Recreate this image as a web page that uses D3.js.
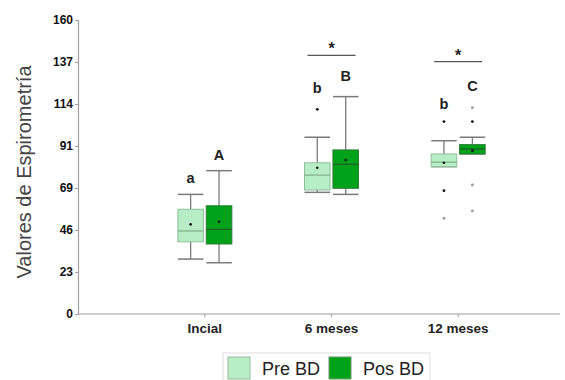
<!DOCTYPE html>
<html><head><meta charset="utf-8">
<script src="https://cdn.jsdelivr.net/npm/d3@7"></script>
<style>body{margin:0;background:#fff}svg{display:block}</style>
</head><body>
<script>
const categories = ["Incial", "6 meses", "12 meses"];
const seriesNames = ["Pre BD", "Pos BD"];
const seriesColors = ["#b8eec6", "#00a21a"];
const seriesStroke = ["#8fbf9a", "#2f7d36"];
// [whiskerLow, Q1, median, Q3, whiskerHigh, mean]
const preStats = [
  [29.9, 39.3, 45.2, 57.0, 65.1, 48.8],
  [66.2, 67.5, 75.6, 82.3, 96.2, 79.6],
  [80.2, 80.2, 82.6, 87.1, 94.3, 82.3]
];
const posStats = [
  [27.9, 38.1, 46.1, 58.9, 78.0, 50.2],
  [65.1, 68.4, 81.5, 89.3, 118.3, 83.8],
  [87.1, 87.1, 89.8, 92.2, 96.2, 88.9]
];
// outliers: [value, dark(1)/gray(0)]
const preOutliers = [[], [[111.4, 1]], [[104.7, 1], [67.1, 1], [52.1, 0]]];
const posOutliers = [[], [], [[112.3, 0], [104.7, 1], [70.2, 0], [56.1, 0]]];
const preLetters = ["a", "b", "b"];
const posLetters = ["A", "B", "C"];
const preLetterAt = [71.3, 120.3, 111.6];
const posLetterAt = [83.8, 126.8, 121.4];
const sigCategories = ["6 meses", "12 meses"];
const sigHeights = [140.8, 137.3];
const tickValues = [0, 23, 46, 69, 91, 114, 137, 160];
const yTitle = "Valores de Espirometría";

const W = 565, H = 380;
const FONT = "Liberation Sans, Arial, sans-serif";
const svg = d3.select("body").append("svg").attr("width", W).attr("height", H);

const y = d3.scaleLinear().domain([0, 160]).range([314, 20]);
const x = d3.scaleBand().domain(categories).range([141.5, 521.5]).paddingInner(0).paddingOuter(0);
const sub = d3.scaleBand().domain(seriesNames).range([-27, 27]).paddingInner(0.1).paddingOuter(0);

// y axis
const yAxis = d3.axisLeft(y).tickValues(tickValues.map((t, i) => i * 160 / 7)).tickSize(3).tickPadding(2)
  .tickFormat((d, i) => tickValues[i]);
const ga = svg.append("g").attr("transform", "translate(78,0)").call(yAxis);
ga.select(".domain").attr("stroke", "#a0a0a0").attr("stroke-width", 1.2);
ga.selectAll(".tick line").attr("stroke", "#a0a0a0");
ga.selectAll(".tick text").attr("font-family", FONT).attr("font-size", 12)
  .attr("font-weight", "bold").attr("fill", "#111");

// x axis
svg.append("line").attr("x1", 78).attr("x2", 560).attr("y1", 314).attr("y2", 314)
  .attr("stroke", "#a0a0a0").attr("stroke-width", 1.2);
const gx = svg.append("g").attr("transform", "translate(0,314)")
  .call(d3.axisBottom(x).tickSize(3).tickPadding(6));
gx.select(".domain").remove();
gx.selectAll(".tick line").attr("stroke", "#a0a0a0");
gx.selectAll(".tick text").attr("font-family", FONT).attr("font-size", 13.5)
  .attr("font-weight", "bold").attr("fill", "#222");

// y title
svg.append("text").attr("transform", "translate(31,172) rotate(-90)").attr("text-anchor", "middle")
  .attr("font-family", FONT).attr("font-size", 20).attr("fill", "#444")
  .text(yTitle);

const allStats = [preStats, posStats];
const allOut = [preOutliers, posOutliers];
const allLetters = [preLetters, posLetters];
const allLetterAt = [preLetterAt, posLetterAt];

seriesNames.forEach((s, si) => {
  categories.forEach((c, ci) => {
    const st = allStats[si][ci];
    const x0 = x(c) + x.bandwidth() / 2 + sub(s);
    const bw = sub.bandwidth();
    const cx = x0 + bw / 2;
    const g = svg.append("g");
    const wc = "#7a7a7a";
    g.append("line").attr("x1", cx).attr("x2", cx).attr("y1", y(st[3])).attr("y2", y(st[4])).attr("stroke", wc).attr("stroke-width", 1.3);
    g.append("line").attr("x1", cx).attr("x2", cx).attr("y1", y(st[1])).attr("y2", y(st[0])).attr("stroke", wc).attr("stroke-width", 1.3);
    g.append("line").attr("x1", x0).attr("x2", x0 + bw).attr("y1", y(st[4])).attr("y2", y(st[4])).attr("stroke", wc).attr("stroke-width", 1.5);
    g.append("line").attr("x1", x0).attr("x2", x0 + bw).attr("y1", y(st[0])).attr("y2", y(st[0])).attr("stroke", wc).attr("stroke-width", 1.5);
    g.append("rect").attr("x", x0).attr("width", bw).attr("y", y(st[3])).attr("height", y(st[1]) - y(st[3]))
      .attr("fill", seriesColors[si]).attr("stroke", seriesStroke[si]).attr("stroke-width", 1);
    g.append("line").attr("x1", x0).attr("x2", x0 + bw).attr("y1", y(st[2])).attr("y2", y(st[2]))
      .attr("stroke", si === 0 ? "#7fae8a" : "#1f5e25").attr("stroke-width", 1.2);
    g.append("circle").attr("cx", cx).attr("cy", y(st[5])).attr("r", 1.3).attr("fill", "#111");
    allOut[si][ci].forEach(o => {
      g.append("circle").attr("cx", cx).attr("cy", y(o[0])).attr("r", 1.4).attr("fill", o[1] ? "#111" : "#999");
    });
    g.append("text").attr("x", cx).attr("y", y(allLetterAt[si][ci])).attr("text-anchor", "middle")
      .attr("font-family", FONT).attr("font-size", 14.5).attr("font-weight", "bold")
      .attr("fill", "#222").text(allLetters[si][ci]);
  });
});

// significance
sigCategories.forEach((c, i) => {
  const cx = x(c) + x.bandwidth() / 2;
  const yy = y(sigHeights[i]);
  svg.append("line").attr("x1", cx - 24).attr("x2", cx + 24).attr("y1", yy).attr("y2", yy).attr("stroke", "#555").attr("stroke-width", 1.3);
  svg.append("text").attr("x", cx).attr("y", yy - 1).attr("text-anchor", "middle")
    .attr("font-family", FONT).attr("font-size", 16).attr("font-weight", "bold")
    .attr("fill", "#222").text("*");
});

// legend
const lg = svg.append("g");
lg.append("rect").attr("x", 223).attr("y", 353).attr("width", 207).attr("height", 30).attr("fill", "#fff").attr("stroke", "#ddd");
seriesNames.forEach((s, i) => {
  const lx = 228 + i * 101;
  lg.append("rect").attr("x", lx).attr("y", 357).attr("width", 22).attr("height", 22)
    .attr("fill", seriesColors[i]).attr("stroke", i === 0 ? "#9ab9a0" : "#6a9a6a").attr("stroke-width", 1);
  lg.append("text").attr("x", lx + 34).attr("y", 375).attr("font-family", FONT)
    .attr("font-size", 18).attr("fill", "#222").text(s);
});
</script>
</body></html>
